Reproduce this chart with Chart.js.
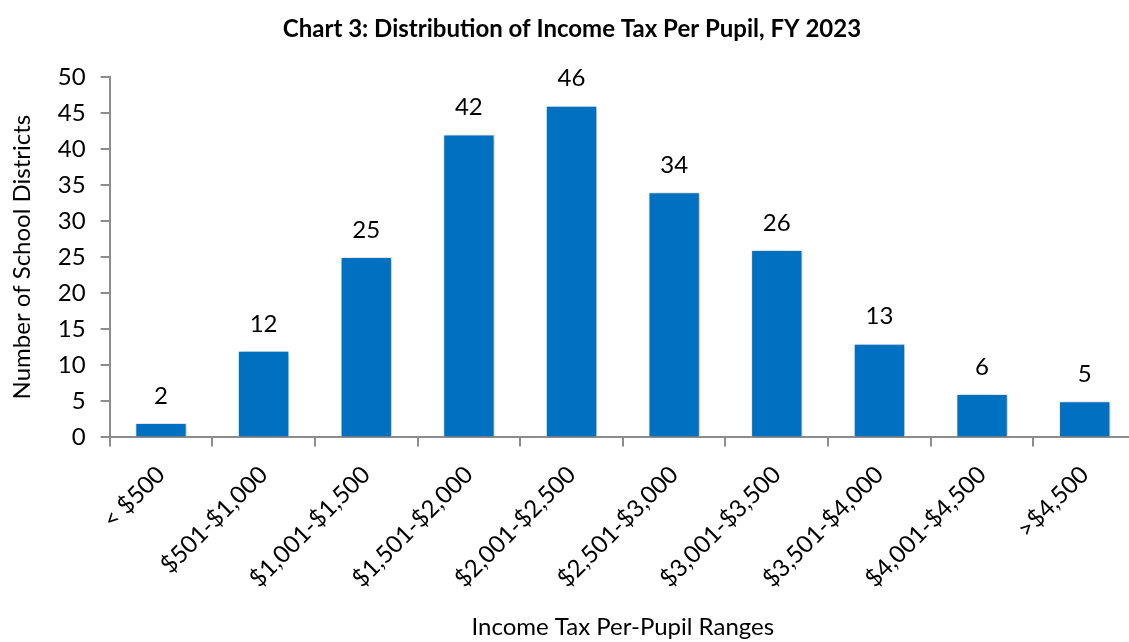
<!DOCTYPE html>
<html>
<head>
<meta charset="utf-8">
<script src="https://cdn.jsdelivr.net/npm/chart.js@4/dist/chart.umd.min.js"></script>
<style>
  html, body { margin: 0; padding: 0; background: #fff; overflow: hidden; }
  #wrap { position: absolute; left: 0; top: 0; width: 1136px; height: 642px; }
</style>
</head>
<body>
<div id="wrap"><canvas id="chart"></canvas></div>
<script>
const ranges = ["< $500", "$501-$1,000", "$1,001-$1,500", "$1,501-$2,000", "$2,001-$2,500",
  "$2,501-$3,000", "$3,001-$3,500", "$3,501-$4,000", "$4,001-$4,500", ">$4,500"];
const districts = [2, 12, 25, 42, 46, 34, 26, 13, 6, 5];

const FONT = "Lato, 'Open Sans', sans-serif";
const AXIS = "#8c8c8c";

// value labels above bars
const barLabels = {
  id: "barLabels",
  afterDatasetsDraw(chart) {
    const ctx = chart.ctx;
    ctx.save();
    ctx.font = "24px " + FONT;
    ctx.fillStyle = "#000";
    ctx.textAlign = "center";
    ctx.textBaseline = "middle";
    chart.getDatasetMeta(0).data.forEach((bar, i) => {
      ctx.fillText(districts[i], bar.x, bar.y - 27);
    });
    ctx.restore();
  }
};

// soft shadow behind bars
const barShadow = {
  id: "barShadow",
  beforeDatasetsDraw(chart) {
    const ctx = chart.ctx;
    ctx.save();
    ctx.shadowColor = "rgba(0,0,0,0.25)";
    ctx.shadowBlur = 4;
    ctx.shadowOffsetX = 2;
    ctx.shadowOffsetY = 1;
  },
  afterDatasetsDraw(chart) {
    chart.ctx.restore();
  }
};

new Chart(document.getElementById("chart"), {
  type: "bar",
  data: {
    labels: ranges,
    datasets: [{
      data: districts,
      backgroundColor: "#0070c0",
      borderColor: "#f2f2f2",
      borderWidth: 1,
      barPercentage: 0.5,
      categoryPercentage: 1.0
    }]
  },
  options: {
    responsive: true,
    maintainAspectRatio: false,
    animation: false,
    layout: { padding: { left: 8, right: 0, top: 11, bottom: 0 } },
    plugins: {
      legend: { display: false },
      tooltip: { enabled: false },
      title: {
        display: true,
        text: "Chart 3: Distribution of Income Tax Per Pupil, FY 2023",
        color: "#000",
        font: { family: FONT, size: 24, weight: "bold" },
        padding: { top: 4, bottom: 33 }
      }
    },
    scales: {
      x: {
        afterFit(scale) {
          // rotated labels sit inside the plot, no extra left room needed
          scale.paddingLeft = 0;
          scale.paddingRight = 0;
        },
        border: { color: AXIS, width: 2 },
        grid: { display: true, drawOnChartArea: false, color: AXIS, lineWidth: 2, tickLength: 9 },
        ticks: {
          color: "#000",
          font: { family: FONT, size: 24 },
          minRotation: 45,
          maxRotation: 45,
          autoSkip: false,
          padding: 14
        },
        title: {
          display: true,
          text: "Income Tax Per-Pupil Ranges",
          color: "#000",
          font: { family: FONT, size: 24 },
          padding: { top: 6, bottom: 0 }
        }
      },
      y: {
        min: 0,
        max: 50,
        border: { color: AXIS, width: 2 },
        grid: { display: true, drawOnChartArea: false, color: AXIS, lineWidth: 2, tickLength: 9 },
        ticks: {
          stepSize: 5,
          color: "#000",
          font: { family: FONT, size: 24 },
          padding: 15
        },
        title: {
          display: true,
          text: "Number of School Districts",
          color: "#000",
          font: { family: FONT, size: 24 },
          padding: { top: 0, bottom: 6 }
        }
      }
    }
  },
  plugins: [barShadow, barLabels]
});
</script>
</body>
</html>
